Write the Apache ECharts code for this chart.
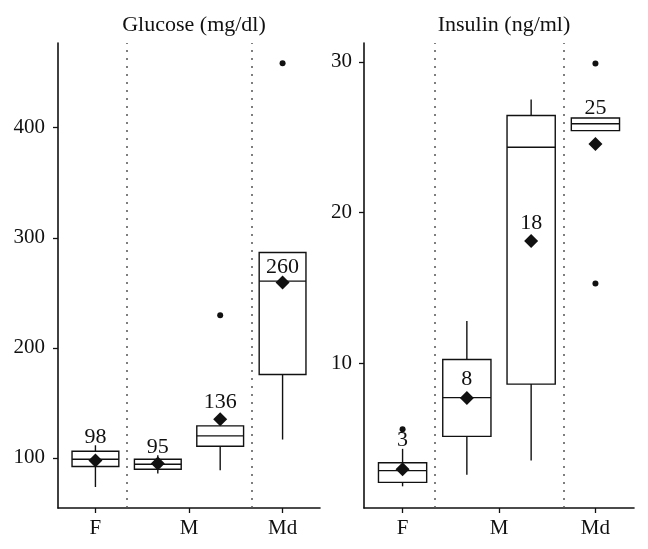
<!DOCTYPE html>
<html>
<head>
<meta charset="utf-8">
<script src="https://cdn.jsdelivr.net/npm/echarts@6/dist/echarts.min.js"></script>
<style>
  html, body { margin: 0; padding: 0; background: #fff; }
  #chart { width: 648px; height: 549px; }
</style>
</head>
<body>
<div id="chart"></div>
<script>
// box positions on the x axis: F, M (two groups), Md
const boxPositions = [1, 2, 3, 4];
const groupLabels = ['F', 'M', 'Md'];
const groupLabelPositions = [1, 2.5, 4];
const groupSeparators = [1.5, 3.5];

// [lower whisker, Q1, median, Q3, upper whisker]
const glucoseBoxes = [
  [73.6, 92.2, 98.8, 106.1, 111.5],
  [85.8, 89.7, 94.3, 98.8, 102.5],
  [88.8, 110.6, 120, 129.1, 129.1],
  [116.7, 175.8, 260.6, 286.7, 286.7]
];
const glucoseMeans = [97.6, 94.9, 135.2, 259.5];
const glucoseMeanText = ['98', '95', '136', '260'];
const glucoseTextY = [119, 110, 151, 273.6];
const glucoseOutliers = [[3, 229.7], [4, 458.5]];
const glucoseTicks = [100, 200, 300, 400];

const insulinBoxes = [
  [1.81, 2.07, 2.85, 3.38, 4.3],
  [2.58, 5.13, 7.7, 10.23, 12.79],
  [3.53, 8.6, 24.33, 26.44, 27.5],
  [25.44, 25.44, 25.9, 26.28, 26.28]
];
const insulinMeans = [2.94, 7.68, 18.1, 24.55];
const insulinMeanText = ['3', '8', '18', '25'];
const insulinTextY = [4.86, 8.9, 19.26, 26.9];
const insulinOutliers = [[1, 5.6], [4, 29.9], [4, 15.28]];
const insulinTicks = [10, 20, 30];

const ink = '#111';
const font = 'Liberation Serif';

const chart = echarts.init(document.getElementById('chart'));

function renderBox(params, api) {
  const x = api.value(0);
  const half = 0.375;
  const lo = api.coord([x, api.value(1)]);
  const q1 = api.coord([x, api.value(2)]);
  const med = api.coord([x, api.value(3)]);
  const q3 = api.coord([x, api.value(4)]);
  const hi = api.coord([x, api.value(5)]);
  const left = api.coord([x - half, api.value(3)])[0];
  const right = api.coord([x + half, api.value(3)])[0];
  const style = { stroke: ink, lineWidth: 1.4, fill: null };
  return {
    type: 'group',
    children: [
      { type: 'line', shape: { x1: lo[0], y1: lo[1], x2: q1[0], y2: q1[1] }, style: style },
      { type: 'line', shape: { x1: q3[0], y1: q3[1], x2: hi[0], y2: hi[1] }, style: style },
      { type: 'rect', shape: { x: left, y: q3[1], width: right - left, height: q1[1] - q3[1] },
        style: { stroke: ink, lineWidth: 1.4, fill: '#fff' } },
      { type: 'line', shape: { x1: left, y1: med[1], x2: right, y2: med[1] }, style: style }
    ]
  };
}

function panelSeries(idx, boxes, means, texts, textY, outliers) {
  return [
    {
      type: 'custom',
      xAxisIndex: idx, yAxisIndex: idx,
      renderItem: renderBox,
      data: boxes.map((b, i) => [boxPositions[i]].concat(b)),
      z: 2
    },
    {
      type: 'scatter',
      xAxisIndex: idx, yAxisIndex: idx,
      symbol: 'diamond',
      symbolSize: 14,
      itemStyle: { color: ink, opacity: 1 },
      data: means.map((m, i) => [boxPositions[i], m]),
      z: 3,
      markLine: {
        silent: true,
        symbol: 'none',
        label: { show: false },
        lineStyle: { color: '#555', type: [2, 6], width: 1.5, opacity: 1 },
        data: groupSeparators.map(v => ({ xAxis: v }))
      }
    },
    {
      type: 'scatter',
      xAxisIndex: idx, yAxisIndex: idx,
      symbol: 'circle',
      symbolSize: 6,
      itemStyle: { color: ink, opacity: 1 },
      data: outliers,
      z: 3
    },
    {
      type: 'scatter',
      xAxisIndex: idx, yAxisIndex: idx,
      symbolSize: 0,
      silent: true,
      itemStyle: { opacity: 1 },
      label: {
        show: true, position: 'inside',
        formatter: p => p.name,
        color: ink, fontFamily: font, fontSize: 22
      },
      data: texts.map((t, i) => ({ name: t, value: [boxPositions[i], textY[i]] })),
      z: 4
    }
  ];
}

function xAxis(idx) {
  return {
    type: 'value', gridIndex: idx, min: 0.4, max: 4.6,
    splitLine: { show: false },
    axisLine: { lineStyle: { color: ink, width: 1.6 } },
    axisTick: { length: 5, customValues: groupLabelPositions, lineStyle: { color: ink, width: 1.3 } },
    axisLabel: {
      customValues: groupLabelPositions,
      formatter: v => groupLabels[groupLabelPositions.indexOf(v)] || '',
      color: ink, fontFamily: font, fontSize: 21, margin: 10
    }
  };
}

function yAxis(idx, min, max, ticks, margin) {
  return {
    type: 'value', gridIndex: idx, min: min, max: max,
    splitLine: { show: false },
    axisLine: { show: true, lineStyle: { color: ink, width: 1.6 } },
    axisTick: { show: true, length: 5, customValues: ticks, lineStyle: { color: ink, width: 1.3 } },
    axisLabel: { customValues: ticks, color: ink, fontFamily: font, fontSize: 21, margin: margin }
  };
}

const option = {
  animation: false,
  backgroundColor: '#fff',
  title: [
    { text: 'Glucose (mg/dl)', left: 189, top: 9, textAlign: 'center',
      textStyle: { fontFamily: font, fontSize: 22, fontWeight: 'normal', color: ink } },
    { text: 'Insulin (ng/ml)', left: 499, top: 9, textAlign: 'center',
      textStyle: { fontFamily: font, fontSize: 22, fontWeight: 'normal', color: ink } }
  ],
  grid: [
    { left: 58, width: 262, top: 43, bottom: 41 },
    { left: 364, width: 270, top: 43, bottom: 41 }
  ],
  xAxis: [xAxis(0), xAxis(1)],
  yAxis: [yAxis(0, 54.5, 477, glucoseTicks, 13), yAxis(1, 0.37, 31.26, insulinTicks, 12)],
  series: [].concat(
    panelSeries(0, glucoseBoxes, glucoseMeans, glucoseMeanText, glucoseTextY, glucoseOutliers),
    panelSeries(1, insulinBoxes, insulinMeans, insulinMeanText, insulinTextY, insulinOutliers)
  )
};

chart.setOption(option);
</script>
</body>
</html>
